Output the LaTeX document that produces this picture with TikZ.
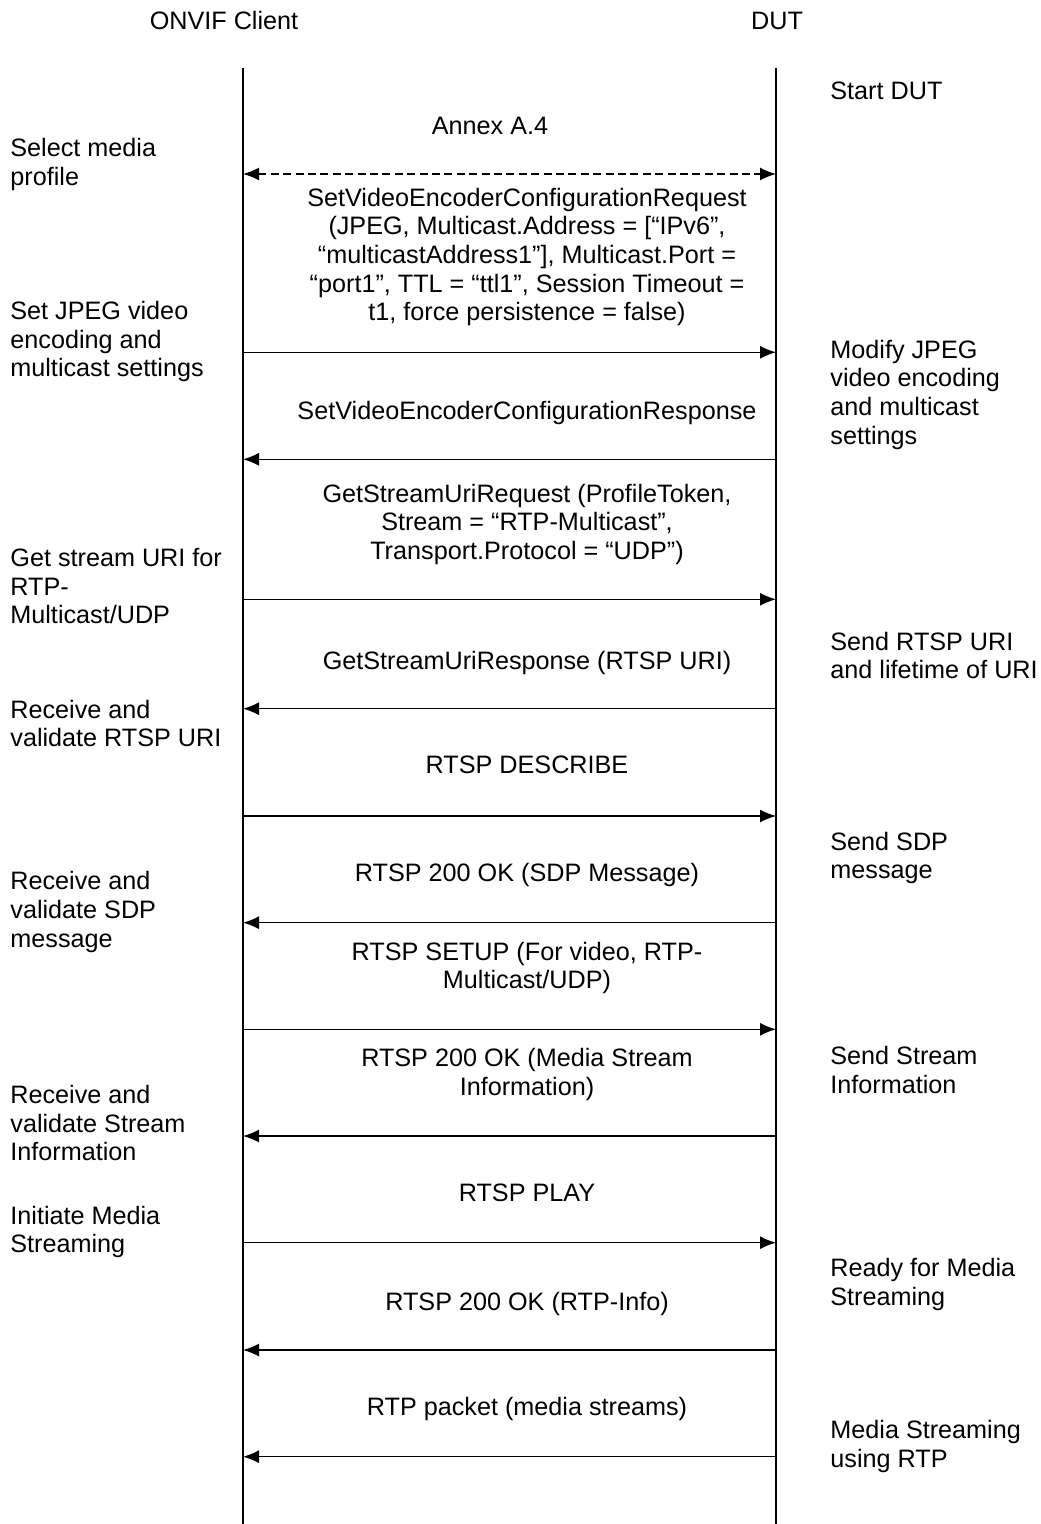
\documentclass[tikz,border=0pt]{standalone}
\usepackage{fontspec}
\setmainfont{Liberation Sans}
\usetikzlibrary{arrows.meta}
\newcommand{\seqfont}{\fontsize{12.6}{14.3}\selectfont}
\tikzset{
  lifeline/.style={line width=0.7pt, color=black},
  msg/.style={-{Latex[length=8pt,width=6.5pt]}, line width=0.7pt, color=black},
  annexmsg/.style={{Latex[length=8pt,width=6.5pt]}-{Latex[length=8pt,width=6.5pt]},
    line width=0.7pt, dash pattern=on 4pt off 2.2pt, color=black},
  header/.style={anchor=base, inner sep=0pt, font=\seqfont},
  msglabel/.style={anchor=base, align=center, inner sep=0pt, font=\seqfont},
  clientnote/.style={anchor=base west, align=left, inner sep=0pt, font=\seqfont},
  dutnote/.style={anchor=base west, align=left, inner sep=0pt, font=\seqfont}
}

\begin{document}
\begin{tikzpicture}[x=0.5pt, y=-0.5pt]
  \useasboundingbox (0,0) rectangle (1040,1524);

  % Headers and lifelines
  \node[header] (client) at (224,29.3) {ONVIF Client};
  \node[header] (dut) at (777,29.3) {DUT};
  \coordinate (ctop) at (243,68);
  \coordinate (cbot) at (243,1524);
  \coordinate (dtop) at (776,68);
  \coordinate (dbot) at (776,1524);
  \draw[lifeline] (ctop) -- (cbot);
  \draw[lifeline] (dtop) -- (dbot);

  % Message levels
  \foreach \n/\y in {1/174,2/352.3,3/459.3,4/599.3,5/708.7,6/816,7/922.7,
                     8/1029.3,9/1136,10/1242.7,11/1350,12/1456.7} {
    \coordinate (c\n) at (243,\y);
    \coordinate (d\n) at (776,\y);
  }

  % Messages
  \draw[annexmsg] (c1) -- (d1);
  \draw[msg] (c2) -- (d2);
  \draw[msg] (d3) -- (c3);
  \draw[msg] (c4) -- (d4);
  \draw[msg] (d5) -- (c5);
  \draw[msg] (c6) -- (d6);
  \draw[msg] (d7) -- (c7);
  \draw[msg] (c8) -- (d8);
  \draw[msg] (d9) -- (c9);
  \draw[msg] (c10) -- (d10);
  \draw[msg] (d11) -- (c11);
  \draw[msg] (d12) -- (c12);

  % Message labels (base = last line)
  \node[msglabel] (annex) at (490,135) {Annex A.4};
  \node[msglabel] (setreq) at (527,320.7) {SetVideoEncoderConfigurationRequest\\(JPEG, Multicast.Address = [“IPv6”,\\“multicastAddress1”], Multicast.Port =\\“port1”, TTL = “ttl1”, Session Timeout =\\t1, force persistence = false)};
  \node[msglabel] (setres) at (527,419) {SetVideoEncoderConfigurationResponse};
  \node[msglabel] (urireq) at (527,559.5) {GetStreamUriRequest (ProfileToken,\\Stream = “RTP-Multicast”,\\Transport.Protocol = “UDP”)};
  \node[msglabel] (urires) at (527,669) {GetStreamUriResponse (RTSP URI)};
  \node[msglabel] (describe) at (527,773) {RTSP DESCRIBE};
  \node[msglabel] (sdpok) at (527,881.7) {RTSP 200 OK (SDP Message)};
  \node[msglabel] (setup) at (527,988.7) {RTSP SETUP (For video, RTP-\\Multicast/UDP)};
  \node[msglabel] (setupok) at (527,1095) {RTSP 200 OK (Media Stream\\Information)};
  \node[msglabel] (play) at (527,1201.7) {RTSP PLAY};
  \node[msglabel] (playok) at (527,1310) {RTSP 200 OK (RTP-Info)};
  \node[msglabel] (rtp) at (527,1415) {RTP packet (media streams)};

  % Client side notes
  \node[clientnote] (selprof) at (10,185.3) {Select media\\profile};
  \node[clientnote] (setjpeg) at (10,376.7) {Set JPEG video\\encoding and\\multicast settings};
  \node[clientnote] (geturi) at (10,623.7) {Get stream URI for\\RTP-\\Multicast/UDP};
  \node[clientnote] (valuri) at (10,746.7) {Receive and\\validate RTSP URI};
  \node[clientnote] (valsdp) at (10,947) {Receive and\\validate SDP\\message};
  \node[clientnote] (valinfo) at (10,1160.7) {Receive and\\validate Stream\\Information};
  \node[clientnote] (initstream) at (10,1252.7) {Initiate Media\\Streaming};

  % DUT side notes
  \node[dutnote] (start) at (830,100) {Start DUT};
  \node[dutnote] (modify) at (830,444) {Modify JPEG\\video encoding\\and multicast\\settings};
  \node[dutnote] (senduri) at (830,678.7) {Send RTSP URI\\and lifetime of URI};
  \node[dutnote] (sendsdp) at (830,878.7) {Send SDP\\message};
  \node[dutnote] (sendinfo) at (830,1093) {Send Stream\\Information};
  \node[dutnote] (ready) at (830,1305) {Ready for Media\\Streaming};
  \node[dutnote] (streaming) at (830,1467) {Media Streaming\\using RTP};
\end{tikzpicture}
\end{document}
